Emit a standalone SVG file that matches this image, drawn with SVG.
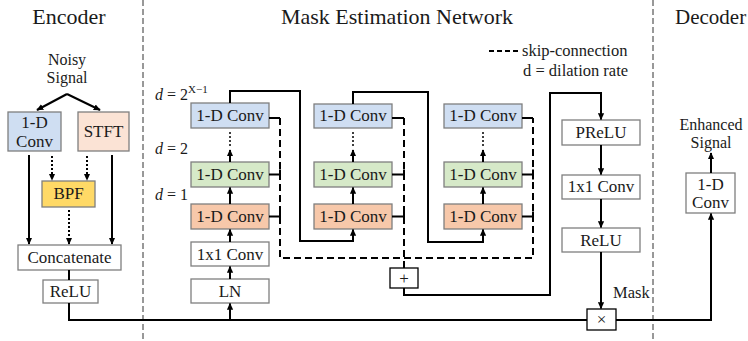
<svg xmlns="http://www.w3.org/2000/svg" width="748" height="341" viewBox="0 0 748 341" font-family="'Liberation Serif', 'DejaVu Serif', serif">
<defs>
<marker id="ah" viewBox="0 0 10 10" refX="9" refY="5" markerWidth="7" markerHeight="7" orient="auto" markerUnits="userSpaceOnUse">
<path d="M0,0.5 L10,5 L0,9.5 z" fill="#000"/>
</marker>
<style>
text{fill:#1a1a1a}
.t{font-size:22px}
.b{font-size:17px;text-anchor:middle}
.s{font-size:16px;text-anchor:middle}
.box{stroke:#7f7f7f;stroke-width:1.3}
.w{fill:#fff}
.blue{fill:#cfdef2}
.green{fill:#d6e9c8}
.orange{fill:#f7c8aa}
.peach{fill:#fbe3d5}
.yellow{fill:#ffd966}
.ln{fill:none;stroke:#000;stroke-width:2}
.dot{fill:none;stroke:#000;stroke-width:2;stroke-dasharray:2 2}
.dash{fill:none;stroke:#000;stroke-width:2;stroke-dasharray:7 4}
.div{fill:none;stroke:#333;stroke-width:1;stroke-dasharray:6 3}
.arr{marker-end:url(#ah)}
.d{font-size:16px}
</style>
</defs>

<!-- dividers -->
<line class="div" x1="143" y1="0" x2="143" y2="341"/>
<line class="div" x1="653" y1="0" x2="653" y2="341"/>

<!-- titles -->
<text class="t" x="69" y="24" text-anchor="middle">Encoder</text>
<text class="t" x="397" y="24" text-anchor="middle">Mask Estimation Network</text>
<text class="t" x="675" y="24" style="font-size:21px">Decoder</text>

<!-- legend -->
<g id="legend">
<line class="dash" x1="489" y1="51" x2="518" y2="51" style="stroke-width:1.8;stroke-dasharray:5 3"/>
<text x="522" y="56" style="font-size:16.5px">skip-connection</text>
<text x="523" y="76" style="font-size:16.5px">d = dilation rate</text>
</g>

<!-- d labels -->
<g id="dlabels">
<text class="d" x="155" y="100"><tspan font-style="italic">d</tspan> = 2<tspan font-size="11" dy="-7">X−1</tspan></text>
<text class="d" x="155" y="154"><tspan font-style="italic">d</tspan> = 2</text>
<text class="d" x="155" y="200"><tspan font-style="italic">d</tspan> = 1</text>
</g>

<!-- Encoder -->
<g id="noisy"><text class="s" x="67" y="65">Noisy</text><text class="s" x="67" y="83">Signal</text></g>
<g id="enc_conv"><rect class="box blue" x="8" y="112" width="53" height="39"/><text class="b" x="34.5" y="128">1-D</text><text class="b" x="34.5" y="147">Conv</text></g>
<g id="stft"><rect class="box peach" x="78" y="112" width="51" height="39"/><text class="b" x="103.5" y="137">STFT</text></g>
<g id="bpf"><rect class="box yellow" x="42" y="181" width="53" height="26"/><text class="b" x="68.5" y="199">BPF</text></g>
<g id="concat"><rect class="box w" x="18" y="245" width="103" height="25"/><text class="b" x="69.5" y="263">Concatenate</text></g>
<g id="enc_relu"><rect class="box w" x="43" y="280" width="55" height="23"/><text class="b" x="70.5" y="297">ReLU</text></g>

<!-- Mask network column 1 -->
<g id="c1_blue"><rect class="box blue" x="191" y="103" width="78" height="25"/><text class="b" x="230" y="121">1-D Conv</text></g>
<g id="c1_green"><rect class="box green" x="191" y="162" width="78" height="25"/><text class="b" x="230" y="180">1-D Conv</text></g>
<g id="c1_orange"><rect class="box orange" x="191" y="204" width="78" height="25"/><text class="b" x="230" y="222">1-D Conv</text></g>
<g id="c1_1x1"><rect class="box w" x="191" y="242" width="78" height="24"/><text class="b" x="230" y="260">1x1 Conv</text></g>
<g id="ln"><rect class="box w" x="191" y="279" width="78" height="24"/><text class="b" x="230" y="297">LN</text></g>

<!-- column 2 -->
<g id="c2_blue"><rect class="box blue" x="314" y="104" width="78" height="24"/><text class="b" x="353" y="121">1-D Conv</text></g>
<g id="c2_green"><rect class="box green" x="314" y="162" width="78" height="25"/><text class="b" x="353" y="180">1-D Conv</text></g>
<g id="c2_orange"><rect class="box orange" x="314" y="204" width="78" height="25"/><text class="b" x="353" y="222">1-D Conv</text></g>

<!-- column 3 -->
<g id="c3_blue"><rect class="box blue" x="444" y="104" width="78" height="24"/><text class="b" x="483" y="121">1-D Conv</text></g>
<g id="c3_green"><rect class="box green" x="444" y="162" width="78" height="25"/><text class="b" x="483" y="180">1-D Conv</text></g>
<g id="c3_orange"><rect class="box orange" x="444" y="204" width="78" height="25"/><text class="b" x="483" y="222">1-D Conv</text></g>

<!-- sum and right column -->
<g id="plus"><rect class="box w" x="390" y="268" width="28" height="20" style="stroke:#000"/><text class="b" x="404" y="284">+</text></g>
<g id="prelu"><rect class="box w" x="562" y="120" width="78" height="25"/><text class="b" x="601" y="138">PReLU</text></g>
<g id="m_1x1"><rect class="box w" x="562" y="175" width="78" height="24"/><text class="b" x="601" y="192">1x1 Conv</text></g>
<g id="m_relu"><rect class="box w" x="562" y="228" width="78" height="24"/><text class="b" x="601" y="246">ReLU</text></g>
<g id="mul"><rect class="box w" x="587" y="309" width="29" height="21" style="stroke:#000"/><text class="b" x="601.5" y="325">×</text></g>
<text x="613" y="298" style="font-size:16.5px">Mask</text>

<!-- Decoder -->
<g id="dec_conv"><rect class="box w" x="686" y="173" width="49" height="40"/><text class="b" x="710.5" y="190">1-D</text><text class="b" x="710.5" y="208">Conv</text></g>
<g id="enhanced"><text class="s" x="711" y="130">Enhanced</text><text class="s" x="711" y="148">Signal</text></g>

<!-- connectors -->
<g id="connectors">
<path class="ln arr" d="M67,94 L37,110"/>
<path class="ln arr" d="M67,94 L100,110"/>
<path class="ln arr" d="M29,155 V244"/>
<path class="ln arr" d="M112,155 V244"/>
<path class="dot arr" d="M52,156 V180"/>
<path class="dot arr" d="M87,156 V180"/>
<path class="dot arr" d="M69,210 V244"/>
<path class="ln" d="M69,270 V280"/>
<path class="ln" d="M69,303 V320 H587"/>
<path class="ln arr" d="M230,320 V303.5"/>
<path class="ln arr" d="M230,279 V266.5"/>
<path class="ln arr" d="M230,242 V229.5"/>
<path class="ln arr" d="M230,204 V187.5"/>
<path class="ln arr" d="M230,162 V150"/>
<path class="dot" d="M230,146 V130" style="stroke-width:1.5"/>
<path class="ln arr" d="M353,204 V187.5"/>
<path class="ln arr" d="M353,162 V150"/>
<path class="dot" d="M353,146 V130" style="stroke-width:1.5"/>
<path class="ln arr" d="M483,204 V187.5"/>
<path class="ln arr" d="M483,162 V150"/>
<path class="dot" d="M483,146 V130" style="stroke-width:1.5"/>
<path class="ln arr" d="M230,103 V91 H300 V241 H353 V229.5"/>
<path class="ln arr" d="M353,104 V92 H428 V242 H483 V229.5"/>
<path class="ln" d="M269,118 H280 M269,174.5 H280 M280,169.5 V179.5 M269,216.5 H280 M280,211.5 V221.5"/>
<path class="ln" d="M392,118 H404 M392,174.5 H404 M404,169.5 V179.5 M392,216.5 H404 M404,211.5 V221.5"/>
<path class="ln" d="M522,118 H533 M522,174.5 H533 M533,169.5 V179.5 M522,216.5 H533 M533,211.5 V221.5"/>
<path class="dash" d="M280,118 V258 H533 V118"/>
<path class="dash" d="M404,118 V268"/>
<path class="ln arr" d="M404,288 V295 H550 V93 H601 V119.5"/>
<path class="ln arr" d="M601,145 V174.5"/>
<path class="ln arr" d="M601,199 V227.5"/>
<path class="ln arr" d="M601,252 V308.5"/>
<path class="ln arr" d="M616,320 H711 V213.5"/>
<path class="ln arr" d="M711,173 V153"/>
</g>
</svg>
